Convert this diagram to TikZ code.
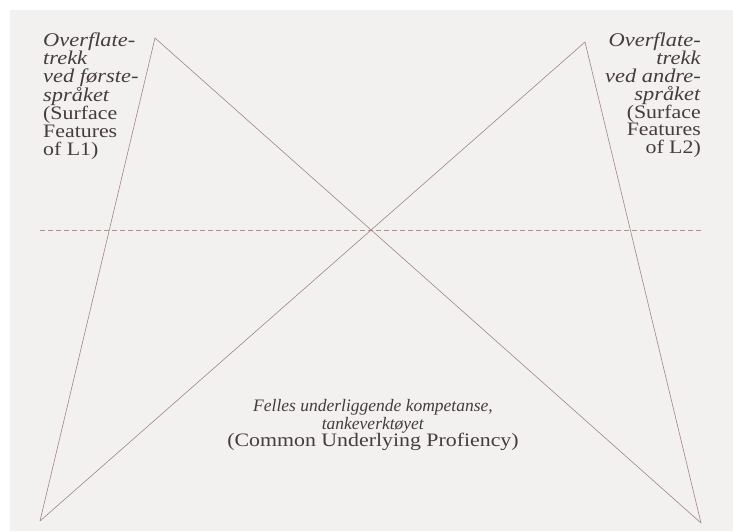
\documentclass[tikz,border=0pt]{standalone}
\usepackage{fontspec}
\setmainfont{Liberation Serif}
\newfontfamily\widefont{Liberation Serif}[FakeStretch=1.15]
\newcommand{\wideline}[1]{{\fontsize{19}{17.8}\selectfont #1}}
\definecolor{paper}{HTML}{F2F1F0}
\definecolor{edge}{HTML}{A38486}
\definecolor{dashline}{HTML}{BA8C8E}
\definecolor{ink}{HTML}{463C3D}

\begin{document}
\begin{tikzpicture}[x=1pt, y=-1pt,
    sidetext/.style={inner sep=0, text=ink, font=\widefont\fontsize{19.5}{17.8}\selectfont},
    leg/.style={edge, line width=0.6pt}]

  % Background
  \useasboundingbox (0,0) rectangle (733,531);
  \fill[white] (0,0) rectangle (733,531);
  \fill[paper] (10,10) rectangle (733,531);

  % Corners of the two triangles
  \coordinate (ltop) at (155,38);
  \coordinate (rtop) at (585,42);
  \coordinate (lbot) at (40,521);
  \coordinate (rbot) at (701,523);

  % Dashed line through the crossing
  \coordinate (dashl) at (40,230);
  \coordinate (dashr) at (701,230);
  \draw[dashline, line width=0.6pt, dash pattern=on 5pt off 3pt] (dashl) -- (dashr);

  % Triangles
  \draw[leg] (lbot) -- (ltop) -- (rbot);
  \draw[leg] (lbot) -- (rtop) -- (rbot);

  % Surface features, first language
  \node (firstlang) [sidetext, anchor=north west, align=left] at (43,33)
    {\textit{Overflate-}\\ \textit{trekk}\\ \textit{ved første-}\\ \textit{språket}\\
     \wideline{(Surface}\\ \wideline{Features}\\ \wideline{of L1)}};

  % Surface features, second language
  \node (secondlang) [sidetext, anchor=north east, align=right] at (701,33)
    {\textit{Overflate-}\\ \textit{trekk}\\ \textit{ved andre-}\\ \textit{språket}\\
     \wideline{(Surface}\\ \wideline{Features}\\ \wideline{of L2)}};

  % Common underlying proficiency
  \node (common) [sidetext, anchor=north, align=center,
                  font=\fontsize{17.5}{17.8}\selectfont] at (373,399)
    {\textit{Felles underliggende kompetanse,}\\ \textit{tankeverktøyet}\\
     {\widefont\wideline{(Common Underlying Profiency)}}};

\end{tikzpicture}
\end{document}
